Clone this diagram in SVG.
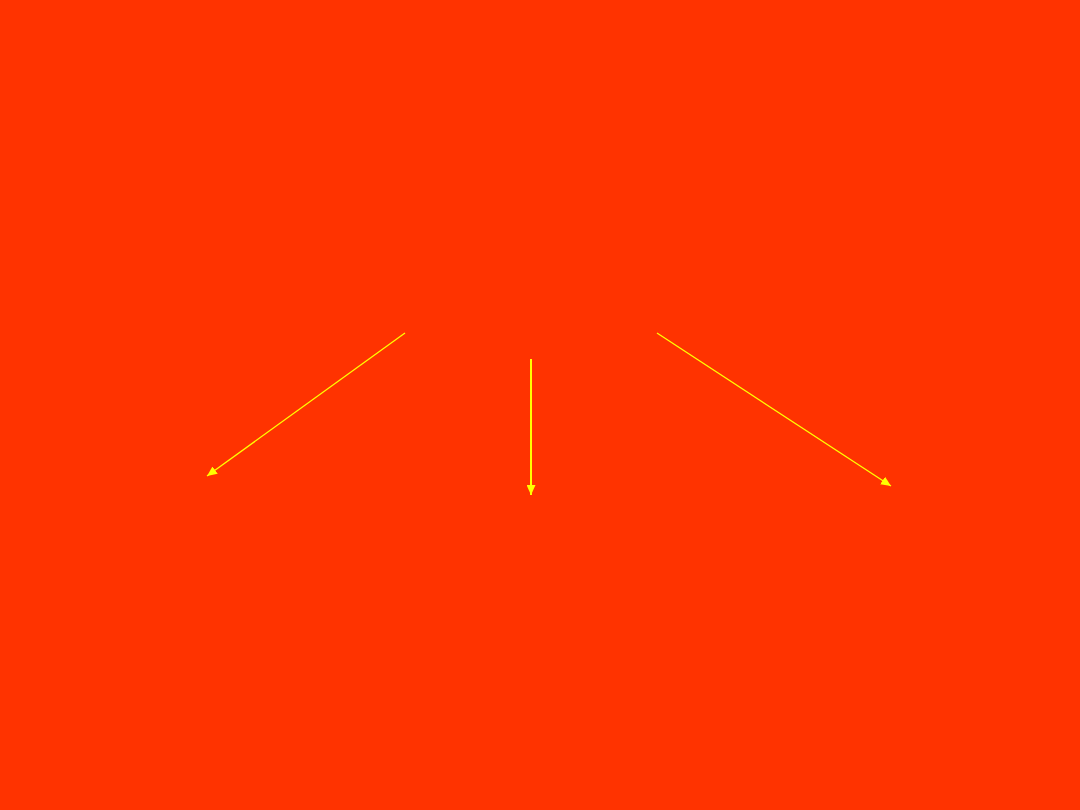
<svg xmlns="http://www.w3.org/2000/svg" width="1080" height="810" viewBox="0 0 1080 810">
<style>
.c{stroke:#FFFF00;fill:none}
</style>
<defs>
<marker id="ah" markerUnits="userSpaceOnUse" markerWidth="11" markerHeight="9" refX="10" refY="4.5" orient="auto">
<path d="M0,0 L10,4.5 L0,9 Z" fill="#FFFF00"/>
</marker>
</defs>
<rect width="1080" height="810" fill="#FF3300"/>
<g id="connectors">
<line class="c" x1="405" y1="333" x2="207" y2="476" stroke-width="1.3" marker-end="url(#ah)"/>
<line class="c" x1="531" y1="359" x2="531" y2="495" stroke-width="2" marker-end="url(#ah)"/>
<line class="c" x1="657" y1="333" x2="891" y2="486" stroke-width="1.3" marker-end="url(#ah)"/>
</g>
</svg>
